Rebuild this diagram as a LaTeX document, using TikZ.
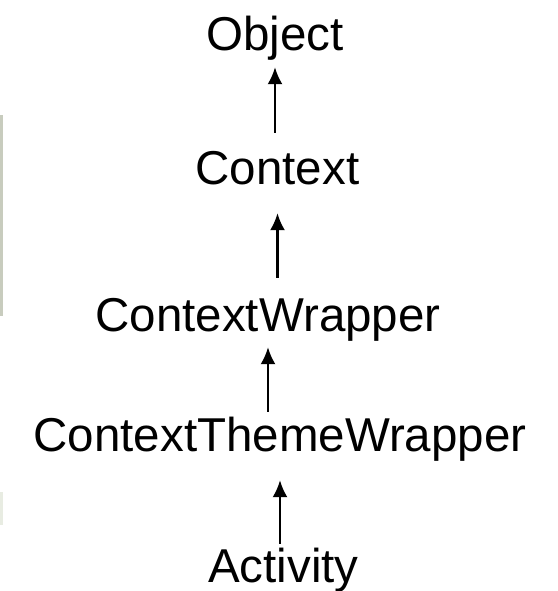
\documentclass[tikz,border=0pt]{standalone}
\usepackage{fontspec}
\setmainfont{Liberation Sans}
\usetikzlibrary{arrows.meta}
\definecolor{edgegray}{RGB}{200,204,190}
\definecolor{edgepale}{RGB}{232,236,226}
\begin{document}
\begin{tikzpicture}[x=1pt, y=-1pt,
   cls/.style={anchor=base, inner sep=0pt, text height=35pt, text depth=10pt,
               font=\fontsize{47.5}{57}\selectfont},
   inh/.style={-{Latex[length=17pt, width=15pt]}, line width=2.2pt}]
   \useasboundingbox (0,0) rectangle (557,591);
   \fill [edgegray] (0,115) rectangle (3,316);
   \fill [edgepale] (0,492) rectangle (3,525);

   \node [cls] (obj) at (275,51)   {Object};
   \node [cls] (ctx) at (277.5,184) {Context};
   \node [cls] (cw)  at (268,331)  {ContextWrapper};
   \node [cls] (ctw) at (280,451)  {ContextThemeWrapper};
   \node [cls] (act) at (283.5,582) {Activity};

   % each class points up to its parent
   \draw [inh, shorten <=16pt, shorten >=6pt]  (obj.south |- ctx.north) -- (obj.south);
   \draw [inh, shorten <=18pt, shorten >=19pt] (ctx.south |- cw.north)  -- (ctx.south);
   \draw [inh, shorten <=4pt,  shorten >=6pt]  (cw.south |- ctw.north)  -- (cw.south);
   \draw [inh, shorten <=3pt,  shorten >=19pt] (ctw.south |- act.north) -- (ctw.south);
\end{tikzpicture}
\end{document}
